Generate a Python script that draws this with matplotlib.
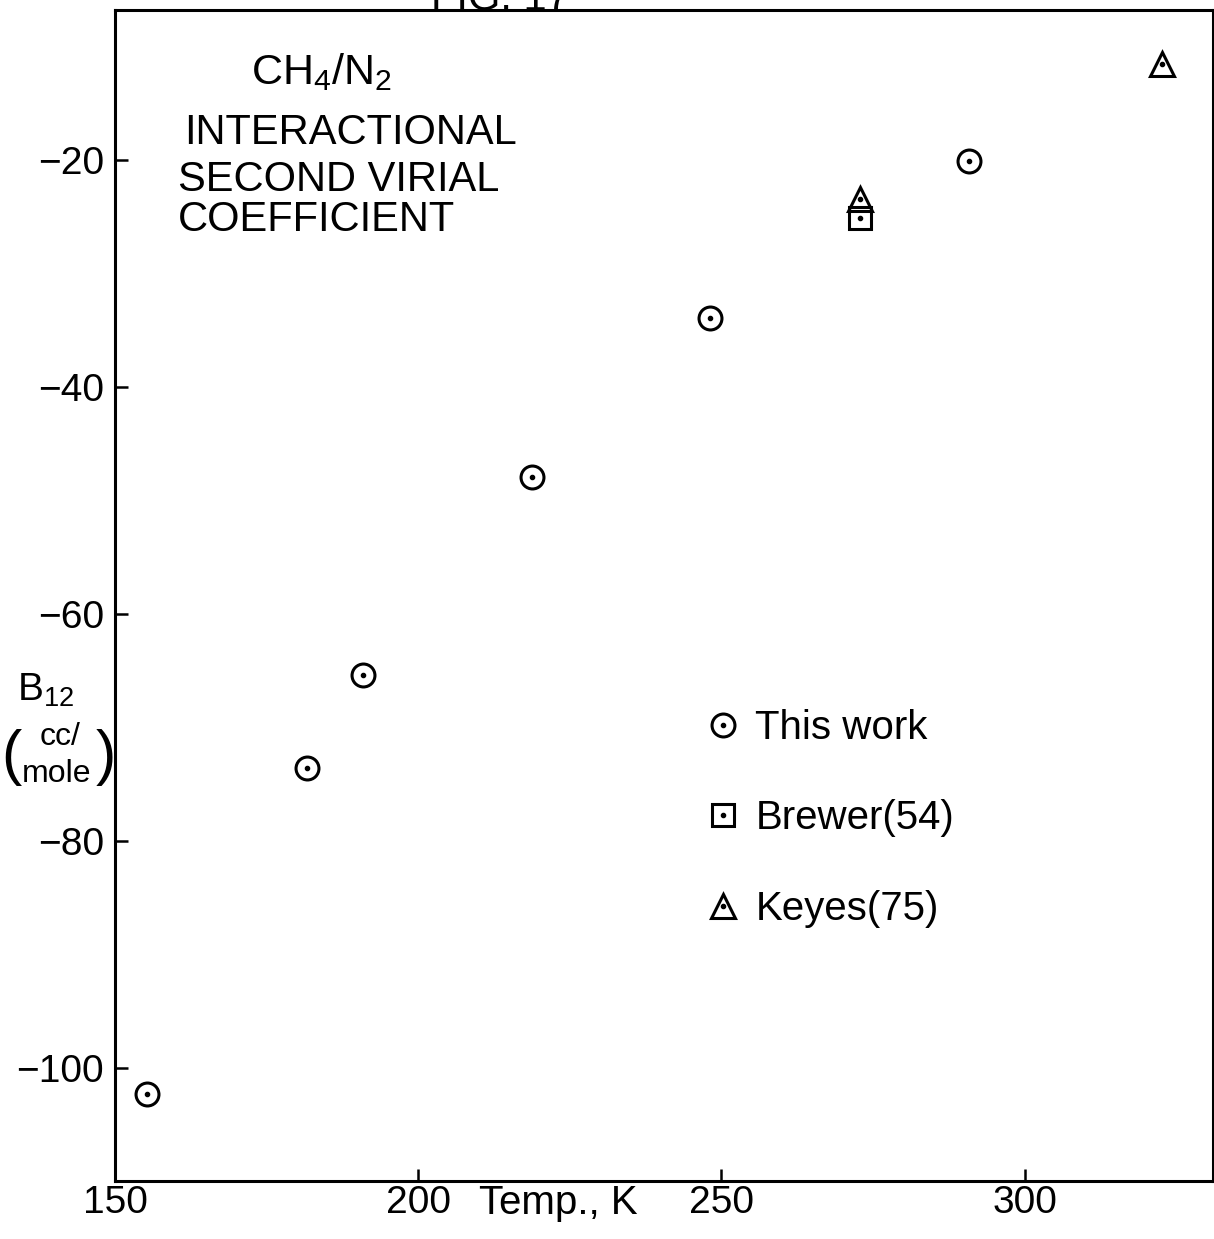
import matplotlib
matplotlib.use("Agg")
import matplotlib.pyplot as plt

FONT = ["Liberation Sans", "DejaVu Sans"]
plt.rcParams["font.family"] = FONT
plt.rcParams["mathtext.fontset"] = "custom"
plt.rcParams["mathtext.rm"] = "Liberation Sans"
plt.rcParams["mathtext.it"] = "Liberation Sans"

# B12 (cc/mole) vs temperature (K)
this_work_T = [155.3, 181.7, 190.9, 218.8, 248.2, 290.9]
this_work_B = [-102.3, -73.6, -65.4, -48.0, -33.9, -20.1]
brewer_T = [272.8]
brewer_B = [-25.1]
keyes_T = [272.8, 322.7]
keyes_B = [-23.5, -11.6]

x_ticks = [150, 200, 250, 300]
y_ticks = [-20, -40, -60, -80, -100]

W, H = 1214, 1239
fig = plt.figure(figsize=(W / 100, H / 100), dpi=100)
ax = fig.add_axes([115 / W, 1 - 1181 / H, (1212.5 - 115) / W, (1181 - 10) / H])
ax.set_xlim(150, 331)
ax.set_ylim(-110.0, -6.8)

lw = 2.2
for s in ax.spines.values():
    s.set_linewidth(lw)

ax.set_xticks(x_ticks)
ax.set_yticks(y_ticks)
ax.tick_params(direction="in", length=9, width=1.8, labelsize=28)
ax.tick_params(axis="x", pad=3)
ax.tick_params(axis="y", pad=8)

ms = 16.5
mew = 2.2
dot = dict(marker=".", markersize=6, color="black", linestyle="none")

c_ring, = ax.plot(this_work_T, this_work_B, marker="o", markersize=ms, mfc="none",
                  mec="black", mew=mew, linestyle="none")
c_dot, = ax.plot(this_work_T, this_work_B, **dot)
s_ring, = ax.plot(brewer_T, brewer_B, marker="s", markersize=ms, mfc="none",
                  mec="black", mew=mew, linestyle="none")
s_dot, = ax.plot(brewer_T, brewer_B, **dot)
t_ring, = ax.plot(keyes_T, keyes_B, marker="^", markersize=ms + 1, mfc="none",
                  mec="black", mew=mew, linestyle="none")
t_dot, = ax.plot(keyes_T, keyes_B, **dot)

leg = ax.legend([(c_ring, c_dot), (s_ring, s_dot), (t_ring, t_dot)],
                ["This work", "Brewer(54)", "Keyes(75)"],
                loc="upper left", bbox_to_anchor=(705 / W, 1 - 709 / H),
                bbox_transform=fig.transFigure, frameon=False, fontsize=29,
                handlelength=0.9, handletextpad=0.35, labelspacing=1.3,
                borderpad=0, borderaxespad=0)


def ftext(x, y, s, **kw):
    fig.text(x / W, 1 - y / H, s, **kw)


# title block
ftext(322, 72, r"CH$_4$/N$_2$", ha="center", va="center", fontsize=31)
ftext(184, 133, "INTERACTIONAL", ha="left", va="center", fontsize=30)
ftext(178, 180, "SECOND VIRIAL", ha="left", va="center", fontsize=30)
ftext(178, 220, "COEFFICIENT", ha="left", va="center", fontsize=30)

# axis labels
ftext(558, 1203, "Temp., K", ha="center", va="center", fontsize=29)
ftext(46, 690, r"B$_{12}$", ha="center", va="center", fontsize=28)
ftext(60, 737, "cc/", ha="center", va="center", fontsize=23)
ftext(57, 774, "mole", ha="center", va="center", fontsize=23)
ftext(11, 757, "(", ha="center", va="center", fontsize=44)
ftext(106, 757, ")", ha="center", va="center", fontsize=44)

# figure number, trimmed by the top edge
ftext(500, 10, "FIG. 17", ha="center", va="baseline", fontsize=30)

fig.savefig("out.png", dpi=100)
